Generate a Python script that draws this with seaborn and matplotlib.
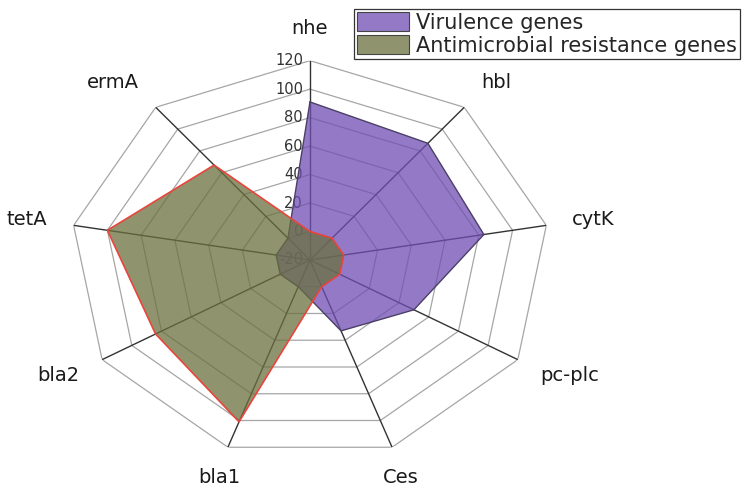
import numpy as np
import matplotlib
matplotlib.use('Agg')
import matplotlib.pyplot as plt
import matplotlib.colors as mcolors
from matplotlib.patches import Patch
import seaborn as sns

# Data
genes = ['nhe', 'hbl', 'cytK', 'pc-plc', 'Ces', 'bla1', 'bla2', 'tetA', 'ermA']
virulence = [91, 87, 83, 50, 33, 0, 0, 0, 0]
resistance = [0, 0, 0, 0, 0, 101, 84, 100, 67]
ring_values = [-20, 0, 20, 40, 60, 80, 100, 120]
series_names = ['Virulence genes', 'Antimicrobial resistance genes']

sns.set_theme(style='white')
plt.rcParams['font.family'] = ['DejaVu Sans']

purple = '#704eb3'
olive = '#6a703e'

fig = plt.figure(figsize=(7.5, 4.9), dpi=100)
ax = fig.add_axes([0.0933, 0.0627, 0.64, 0.8135], projection='polar')
ax.set_aspect('auto')
ax.set_theta_zero_location('N')
ax.set_theta_direction(-1)
ax.set_ylim(ring_values[0], ring_values[-1])
ax.set_axis_off()

theta = np.linspace(0, 2 * np.pi, len(genes), endpoint=False)
th_closed = np.append(theta, theta[0])

# Nonagon grid
for v in ring_values[1:]:
    ax.plot(th_closed, [v] * len(th_closed), color='#a6a6a6', lw=0.9, zorder=1)
for t in theta:
    ax.plot([t, t], [ring_values[0], ring_values[-1]], color='#333333', lw=1.0, zorder=1)

# Radial tick labels along the first spoke
for v in ring_values:
    ax.annotate(str(v), xy=(0, v), xytext=(-5, 0), textcoords='offset points',
                ha='right', va='center', fontsize=10.5, color='#333333', zorder=1.5)

# Series
vir_closed = np.append(virulence, virulence[0])
res_closed = np.append(resistance, resistance[0])
ax.fill(th_closed, vir_closed, color=purple, alpha=0.75, lw=0, zorder=2)
ax.plot(th_closed, vir_closed, color='#4a3f66', lw=1.0, zorder=3)
ax.fill(th_closed, res_closed, color=olive, alpha=0.75, lw=0, zorder=4)
ax.plot(th_closed, res_closed, color='#e8453c', lw=1.2, zorder=5)

# Category labels
lab_r = ring_values[0] + 1.11 * (ring_values[-1] - ring_values[0])
for t, g in zip(theta, genes):
    s = np.sin(t)
    ha = 'left' if s > 0.5 else ('right' if s < -0.5 else 'center')
    ax.annotate(g, xy=(t, lab_r), xytext=(0, 7.5 * np.cos(t)), textcoords='offset points',
                ha=ha, va='center', fontsize=14, color='#1a1a1a', annotation_clip=False)

handles = [Patch(facecolor=mcolors.to_rgba(purple, 0.75), edgecolor='#444444', lw=0.8),
           Patch(facecolor=mcolors.to_rgba(olive, 0.75), edgecolor='#444444', lw=0.8)]
leg = fig.legend(handles, series_names, loc='upper right', bbox_to_anchor=(0.986, 0.982),
                 frameon=True, fancybox=False, edgecolor='#333333', framealpha=1,
                 fontsize=15, handlelength=2.5, handleheight=1.05, labelspacing=0.1,
                 borderpad=0.15, handletextpad=0.3, borderaxespad=0)
leg.get_frame().set_linewidth(0.9)

fig.savefig('out.png', dpi=100)
